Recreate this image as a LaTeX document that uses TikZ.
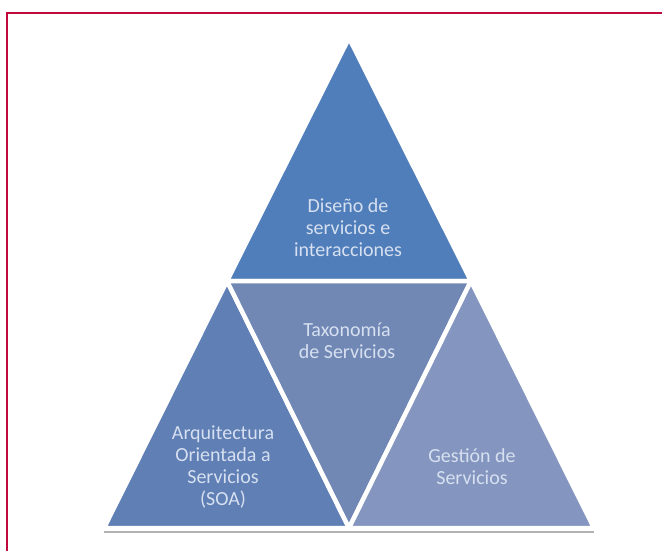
\documentclass[tikz,border=0pt]{standalone}
\usepackage{fontspec}
\setmainfont{Carlito}
\definecolor{frame}{RGB}{192,10,62}
\definecolor{ctop}{RGB}{80,126,186}
\definecolor{cleft}{RGB}{95,127,181}
\definecolor{cmid}{RGB}{113,136,181}
\definecolor{cright}{RGB}{132,150,191}
\definecolor{txt}{RGB}{214,224,240}
\tikzset{
  tri/.style={draw=white, line width=4.5pt, line join=round},
  lbl/.style={text=txt, align=center, font=\fontsize{20}{22}\selectfont, inner sep=0pt},
  shade/.style={draw=black!30, line width=1.6pt}
}
\begin{document}
\begin{tikzpicture}[x=1pt,y=-1pt]
\clip (0,0) rectangle (662,550);
\fill[white] (0,0) rectangle (662,550);
% frame
\draw[frame, line width=2.6pt] (7,600) -- (7,13) -- (700,13);
% key points
\coordinate (apex) at (349,38);
\coordinate (ml) at (227,281);
\coordinate (mr) at (471,281);
\coordinate (bl) at (104,528);
\coordinate (bm) at (349,528);
\coordinate (br) at (594,528);
% shadows
\draw[shade] ([yshift=-4pt]bl) -- ([yshift=-4pt]br);
\draw[black!22, line width=1.2pt] ([xshift=6pt,yshift=-4pt]ml) -- ([xshift=-6pt,yshift=-4pt]mr);
% triangles
\filldraw[tri, fill=ctop] (apex) -- (mr) -- (ml) -- cycle;
\filldraw[tri, fill=cleft] (ml) -- (bm) -- (bl) -- cycle;
\filldraw[tri, fill=cmid] (ml) -- (mr) -- (bm) -- cycle;
\filldraw[tri, fill=cright] (mr) -- (br) -- (bm) -- cycle;
% labels
\node[lbl] (ttop) at (348,228) {Diseño de\\servicios e\\interacciones};
\node[lbl] (tmid) at (347,341) {Taxonomía\\de Servicios};
\node[lbl] (tleft) at (223,467) {Arquitectura\\Orientada a\\Servicios\\(SOA)};
\node[lbl] (tright) at (472,467) {Gestión de\\Servicios};
\end{tikzpicture}
\end{document}
